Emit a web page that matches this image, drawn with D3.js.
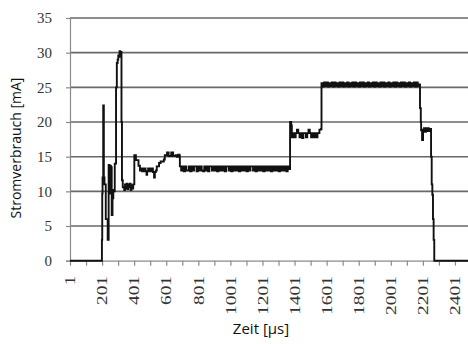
<!DOCTYPE html>
<html>
<head>
<meta charset="utf-8">
<script src="https://cdn.jsdelivr.net/npm/d3@7"></script>
<style>
    body { margin: 0; background: #fff; }
    #chart { width: 468px; height: 344px; }
    .tick-label { font-family: "Liberation Serif", serif; font-size: 15px; fill: #333; }
    .ax { font-family: "Open Sans", sans-serif; fill: #111; }
</style>
</head>
<body>
<div id="chart"></div>
<script>

// Startphase: [Zeit µs, Strom mA]
var anlauf = [
    [1, 0], [200, 0], [200, 3], [202, 9.7], [204, 12], [208, 22.4], [212, 12], [216, 11],
    [224, 6], [236, 3], [242, 13.8], [246, 9.7], [249, 10], [252, 13.7], [256, 13.5],
    [261, 6.6], [266, 9], [271, 10.2], [277, 10], [280, 14], [288, 25], [293, 28.5],
    [298, 29], [302, 29.6], [306, 29.4], [310, 30.2], [314, 29.8], [319, 30.1],
    [322, 20], [325, 11.6], [330, 10.6], [339, 10.2]
];

// kurzes Plateau um 10.5 mA (339-389, alle 5 µs)
var plateauA = [10.2, 11.0, 10.4, 11.1, 10.3, 11.0, 10.6, 11.1, 10.2, 10.9, 10.4];

var phase1 = [
    [395, 11], [402, 15.2], [408, 15.2], [412, 14.5], [420, 14.5], [428, 13.7], [437, 13],
    [445, 13.3], [450, 12.9], [455, 13.3], [460, 12.9], [466, 13.3], [472, 12.9], [478, 12.4],
    [482, 12.9], [488, 13.3], [494, 12.9], [500, 13.3], [506, 12.9], [512, 13.3], [518, 12.8],
    [525, 12.0], [530, 12.8], [536, 13.0], [542, 13.6], [550, 13.6], [556, 14.1], [566, 14.3],
    [580, 14.3], [586, 14.6], [592, 15.2], [600, 15.2], [606, 15.6], [612, 15.6], [616, 15.1],
    [628, 15.1], [632, 15.6], [640, 15.6], [644, 15.1], [660, 15.2], [668, 15.0], [676, 15.3],
    [684, 15.1], [686, 13.6]
];

// Plateau um 13.3 mA (686-1366, alle 8 µs)
var plateauB = [
    13.6, 13.0, 13.6, 12.9, 13.6, 13.0, 13.0, 13.6, 12.9, 13.6,
    13.0, 13.6, 13.6, 12.9, 13.6, 13.0, 13.6, 13.0, 12.9, 13.6,
    13.0, 13.6, 12.9, 13.6, 13.6, 13.0, 13.6, 13.0, 13.6, 12.9,
    13.6, 13.0, 13.6, 13.0, 13.6, 12.9, 13.6, 13.6, 13.0, 13.6,
    12.9, 13.6, 13.0, 13.6, 13.0, 13.6, 12.9, 13.6, 13.0, 13.6,
    13.0, 13.6, 12.9, 13.6, 13.0, 13.6, 13.6, 13.0, 13.6, 12.9,
    13.6, 13.0, 13.6, 13.0, 13.6, 12.9, 13.6, 13.0, 13.6, 13.0,
    13.6, 12.9, 13.6, 13.0, 13.6, 13.0, 13.6, 12.9, 13.6, 13.0,
    13.6, 13.0, 13.6, 12.9, 13.6, 13.2
];

var phase2 = [[1371, 13.2], [1373, 20], [1380, 19.5], [1384, 18.2]];

// Plateau um 18 mA (1384-1552, alle 8 µs)
var plateauC = [
    17.8, 18.4, 17.8, 18.4, 18.9, 18.4, 17.8, 18.4, 17.7, 18.4, 18.4,
    17.8, 18.4, 18.9, 18.4, 17.8, 18.4, 17.8, 18.4, 17.8, 18.4, 18.4
];

var phase3 = [[1556, 18.9], [1566, 19.0], [1569, 25.6]];

// Plateau um 25.5 mA (1569-2177, alle 8 µs)
var plateauD = [
    25.6, 25.1, 25.7, 25.2, 25.7, 25.1, 25.6, 25.2, 25.7, 25.1,
    25.7, 25.2, 25.6, 25.1, 25.7, 25.2, 25.7, 25.1, 25.6, 25.2,
    25.7, 25.1, 25.6, 25.2, 25.7, 25.1, 25.7, 25.2, 25.6, 25.1,
    25.7, 25.2, 25.7, 25.1, 25.6, 25.2, 25.7, 25.1, 25.6, 25.2,
    25.7, 25.1, 25.7, 25.2, 25.6, 25.1, 25.7, 25.2, 25.7, 25.1,
    25.6, 25.2, 25.7, 25.1, 25.6, 25.2, 25.7, 25.1, 25.7, 25.2,
    25.6, 25.1, 25.7, 25.2, 25.7, 25.1, 25.6, 25.2, 25.7, 25.1,
    25.6, 25.2, 25.7, 25.1, 25.7, 25.2, 25.4
];

var phase4 = [[2183, 22], [2188, 20], [2190, 18.8]];

// kurzes Plateau um 19 mA (2190-2244, alle 6 µs)
var plateauE = [18.8, 17.4, 18.9, 19.1, 18.6, 19.1, 18.7, 19.1, 18.7, 19.0];

var auslauf = [[2248, 19], [2252, 15], [2256, 11], [2260, 9.5], [2264, 6], [2268, 3], [2272, 0], [2520, 0]];

var yTicks = [0, 5, 10, 15, 20, 25, 30, 35];
var xLabels = [1, 201, 401, 601, 801, 1001, 1201, 1401, 1601, 1801, 2001, 2201, 2401];

function plateau(t0, step, werte) {
    return werte.map(function(v, i) { return [t0 + i * step, v]; });
}

var data = [].concat(
    anlauf,
    plateau(339, 5, plateauA),
    phase1,
    plateau(686, 8, plateauB),
    phase2,
    plateau(1384, 8, plateauC),
    phase3,
    plateau(1569, 8, plateauD),
    phase4,
    plateau(2190, 6, plateauE),
    auslauf
);

var chart = {};
chart.width = 468;
chart.height = 344;
chart.margin = { top: 18, left: 70, right: -3, bottom: 83 };

chart.svg = d3.select("#chart")
    .append("svg")
    .attr("width", chart.width)
    .attr("height", chart.height);

/*
SCALES
*/
chart.xScale = d3.scaleLinear()
    .domain([1, 2501])
    .range([chart.margin.left, chart.width - chart.margin.right]);

chart.yScale = d3.scaleLinear()
    .domain([0, 35])
    .range([chart.height - chart.margin.bottom - 0.3, chart.margin.top]);

var x0 = chart.margin.left;
var x1 = chart.width - chart.margin.right;
var yBase = chart.yScale(0);

/*
GRIDLINES
*/
chart.svg.append("g")
    .selectAll("line")
    .data(yTicks.filter(function(d) { return d > 0; }))
    .enter()
    .append("line")
    .attr("x1", x0)
    .attr("x2", x1)
    .attr("y1", function(d) { return chart.yScale(d); })
    .attr("y2", function(d) { return chart.yScale(d); })
    .attr("stroke", "#686868")
    .attr("stroke-width", 1.6);

/*
AXES
*/
chart.yAxis = chart.svg.append("g")
    .attr("transform", `translate(${x0},0)`)
    .call(d3.axisLeft(chart.yScale).tickValues(yTicks).tickSize(4).tickFormat(""));

var xTicks = d3.range(1, 2502, 100);
chart.xAxis = chart.svg.append("g")
    .attr("transform", `translate(0,${yBase})`)
    .call(d3.axisBottom(chart.xScale).tickValues(xTicks).tickSize(5).tickSizeOuter(0).tickFormat(""));

chart.svg.selectAll(".domain, .tick line")
    .attr("stroke", "#8a8a8a")
    .attr("stroke-width", 1.2);

// y tick labels
chart.svg.append("g")
    .selectAll("text")
    .data(yTicks)
    .enter()
    .append("text")
    .attr("class", "tick-label")
    .attr("x", 52)
    .attr("y", function(d) { return chart.yScale(d); })
    .attr("dy", "0.35em")
    .attr("text-anchor", "end")
    .text(function(d) { return d; });

// x tick labels, rotated
chart.svg.append("g")
    .selectAll("text")
    .data(xLabels)
    .enter()
    .append("text")
    .attr("class", "tick-label")
    .attr("transform", function(d) { return `translate(${chart.xScale(d)},276) rotate(-90)`; })
    .attr("dy", "0.35em")
    .attr("text-anchor", "end")
    .attr("textLength", function(d) { return String(d).length * 10 - 1; })
    .attr("lengthAdjust", "spacingAndGlyphs")
    .text(function(d) { return d; });

/*
AXIS TITLES
*/
chart.svg.append("text")
    .attr("class", "ax")
    .attr("x", 261)
    .attr("y", 334)
    .attr("text-anchor", "middle")
    .style("font-size", "15px")
    .text("Zeit [µs]");

chart.svg.append("text")
    .attr("class", "ax")
    .attr("transform", "translate(21,148) rotate(-90)")
    .attr("text-anchor", "middle")
    .style("font-size", "14px")
    .text("Stromverbrauch [mA]");

/*
LINE
*/
chart.line = d3.line()
    .curve(d3.curveStepAfter)
    .x(function(d) { return chart.xScale(d[0]); })
    .y(function(d) { return chart.yScale(d[1]); });

chart.svg.append("path")
    .datum(data)
    .attr("d", chart.line)
    .attr("fill", "none")
    .attr("stroke", "#111")
    .attr("stroke-width", 1.9)
    .attr("stroke-linejoin", "miter");

</script>
</body>
</html>
